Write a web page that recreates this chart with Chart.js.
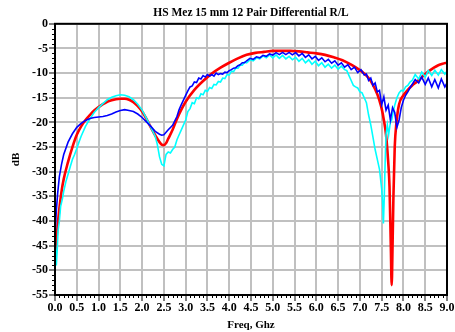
<!DOCTYPE html>
<html>
<head>
<meta charset="utf-8">
<script src="https://cdn.jsdelivr.net/npm/chart.js@4.4.1/dist/chart.umd.min.js"></script>
<style>
html,body{margin:0;padding:0;background:#fff;}
#wrap{width:455px;height:332px;position:relative;}
</style>
</head>
<body>
<div id="wrap"><canvas id="c" width="455" height="332"></canvas></div>
<script>
// ---- data (GHz, dB) ----
const redFreq = [0.0,0.03,0.06,0.1,0.15,0.2,0.3,0.4,0.5,0.6,0.7,0.8,0.9,1.0,1.1,1.2,1.3,1.4,1.5,1.6,1.7,1.8,1.9,2.0,2.1,2.2,2.3,2.4,2.45,2.5,2.55,2.6,2.7,2.8,2.9,3.0,3.2,3.4,3.6,3.8,4.0,4.2,4.4,4.6,4.8,5.0,5.2,5.4,5.6,5.8,6.0,6.2,6.4,6.6,6.8,7.0,7.1,7.2,7.3,7.4,7.45,7.5,7.55,7.6,7.65,7.68,7.71,7.73,7.75,7.77,7.8,7.84,7.9,8.0,8.1,8.2,8.3,8.4,8.5,8.6,8.7,8.8,8.9,9.0];
const redDb = [-47,-44,-41,-37.5,-34,-31.5,-28,-25,-22.5,-20.8,-19.5,-18.5,-17.6,-16.9,-16.3,-15.8,-15.5,-15.3,-15.2,-15.2,-15.4,-15.9,-16.7,-17.8,-19.3,-21,-22.6,-24,-24.5,-24.6,-24.2,-23.3,-21.5,-19.3,-17.4,-15.8,-13.4,-11.6,-10.1,-8.9,-7.9,-7.0,-6.3,-5.9,-5.7,-5.5,-5.5,-5.5,-5.6,-5.8,-6.0,-6.3,-6.8,-7.4,-8.3,-9.4,-10.1,-11.0,-12.4,-14.3,-15.6,-17.2,-19.5,-22.5,-28,-33,-45,-53,-45,-35,-25,-20,-16.3,-14.5,-13.4,-12.5,-11.8,-11.0,-10.2,-9.5,-8.9,-8.4,-8.1,-7.9];

const blueFreq = [0.0,0.03,0.06,0.1,0.15,0.2,0.3,0.4,0.5,0.6,0.7,0.8,0.9,1.0,1.1,1.2,1.3,1.4,1.5,1.6,1.7,1.8,1.9,2.0,2.1,2.2,2.3,2.4,2.45,2.5,2.55,2.6,2.7,2.8,2.85,2.9,3.0,3.05,3.1,3.15,3.2,3.25,3.3,3.35,3.4,3.45,3.5,3.55,3.6,3.65,3.7,3.75,3.8,3.85,3.9,3.95,4.0,4.05,4.1,4.15,4.2,4.25,4.3,4.35,4.4,4.475,4.55,4.625,4.7,4.775,4.85,4.925,5.0,5.075,5.15,5.225,5.3,5.375,5.45,5.525,5.6,5.675,5.75,5.825,5.9,5.975,6.05,6.125,6.2,6.275,6.35,6.425,6.5,6.575,6.65,6.725,6.8,6.875,6.95,7.025,7.1,7.15,7.2,7.25,7.3,7.35,7.4,7.45,7.5,7.55,7.6,7.65,7.7,7.75,7.8,7.85,7.9,7.95,8.0,8.05,8.1,8.15,8.2,8.27,8.35,8.42,8.5,8.57,8.65,8.72,8.8,8.87,8.95,9.0];
const blueDb = [-43,-38,-34.5,-31,-28.5,-26.5,-24,-22.3,-21,-20.2,-19.6,-19.2,-19,-18.9,-18.8,-18.6,-18.3,-17.9,-17.6,-17.4,-17.6,-17.8,-18.3,-19.0,-19.9,-20.8,-21.8,-22.4,-22.6,-22.5,-22.0,-21.5,-20.6,-18.8,-17.4,-16.4,-14.5,-13.6,-12.8,-12.6,-11.8,-11.9,-11.0,-11.2,-10.5,-10.8,-10.3,-10.6,-10.3,-10.6,-10.0,-10.3,-10.1,-10.2,-9.8,-9.9,-9.5,-9.3,-9.0,-8.9,-8.5,-8.3,-7.9,-7.9,-7.5,-7.0,-7.2,-6.7,-6.9,-6.4,-6.6,-6.1,-6.35,-5.85,-6.25,-5.8,-6.25,-5.8,-6.3,-5.85,-6.5,-6.0,-6.8,-6.3,-7.1,-6.6,-7.4,-6.9,-7.7,-7.2,-8.0,-7.5,-8.4,-7.9,-8.8,-8.3,-9.3,-8.8,-9.9,-9.3,-10.4,-10.2,-11.5,-11.0,-12.5,-12.0,-13.8,-13.5,-16.4,-14.8,-17.5,-16.5,-19.5,-17.0,-18.0,-21.0,-19.5,-17.0,-15.5,-14.5,-13.8,-13.0,-12.3,-11.3,-12.0,-10.8,-12.3,-11.0,-12.8,-11.3,-13.0,-11.2,-12.8,-12.0];

const cyanFreq = [0.0,0.03,0.05,0.07,0.1,0.13,0.17,0.2,0.25,0.3,0.35,0.4,0.45,0.5,0.55,0.6,0.7,0.8,0.9,1.0,1.1,1.2,1.3,1.4,1.5,1.6,1.7,1.8,1.9,2.0,2.1,2.2,2.3,2.35,2.4,2.45,2.5,2.55,2.6,2.65,2.7,2.75,2.8,2.85,2.9,3.0,3.05,3.1,3.15,3.2,3.25,3.3,3.35,3.4,3.45,3.5,3.55,3.6,3.65,3.7,3.75,3.8,3.85,3.9,3.95,4.0,4.05,4.1,4.15,4.2,4.25,4.3,4.35,4.4,4.475,4.55,4.625,4.7,4.775,4.85,4.925,5.0,5.075,5.15,5.225,5.3,5.375,5.45,5.525,5.6,5.675,5.75,5.825,5.9,5.975,6.05,6.125,6.2,6.275,6.35,6.425,6.5,6.575,6.65,6.7,6.75,6.8,6.85,6.9,6.95,7.0,7.05,7.1,7.15,7.2,7.25,7.3,7.35,7.4,7.45,7.5,7.52,7.54,7.56,7.58,7.6,7.63,7.66,7.7,7.73,7.76,7.8,7.85,7.9,7.95,8.0,8.05,8.1,8.15,8.2,8.27,8.35,8.42,8.5,8.57,8.65,8.72,8.8,8.87,8.95,9.0];
const cyanDb = [-44,-49,-46,-42,-40,-37,-35.5,-34,-32,-30.5,-29,-27.5,-26.5,-25.3,-24,-22.8,-20.8,-19.3,-18,-17,-16.2,-15.4,-14.9,-14.6,-14.4,-14.5,-14.8,-15.4,-16.3,-17.5,-19.2,-21,-22.8,-24.5,-27,-28.5,-28.8,-26.5,-26,-26.2,-25.5,-25,-23.5,-22.5,-21.5,-19.5,-17.8,-17.2,-16.0,-16.2,-15.0,-15.2,-14.2,-14.4,-13.5,-13.7,-12.9,-13.1,-12.3,-12.4,-11.7,-11.8,-11.0,-11.1,-10.3,-10.4,-9.6,-9.7,-9.0,-9.0,-8.4,-8.4,-7.8,-7.9,-7.3,-7.5,-6.9,-7.1,-6.5,-6.9,-6.3,-6.9,-6.3,-7.0,-6.4,-7.1,-6.6,-7.3,-6.8,-7.6,-7.0,-7.9,-7.3,-8.2,-7.6,-8.5,-7.9,-8.8,-8.2,-9.0,-8.4,-9.2,-8.6,-9.3,-9.5,-10.5,-11.5,-12.5,-12.8,-13.0,-13.8,-14.0,-15.0,-16.0,-18.5,-20.5,-23.0,-25.5,-27.5,-29.5,-33.5,-36,-40.5,-35,-28,-22.5,-20.5,-22.5,-20,-19.5,-18,-16.5,-15.0,-14.0,-13.5,-13.6,-12.8,-12.5,-11.8,-11.5,-10.3,-11.2,-9.8,-10.8,-9.5,-10.5,-9.4,-10.4,-9.3,-10.2,-9.6];

const xTickStep = 0.5;
const yTickStep = 5;
const titleText = 'HS Mez 15 mm 12 Pair Differential R/L';
const xTitle = 'Freq, Ghz';
const yTitle = 'dB';

function pts(xs, ys){ return xs.map((x,i)=>({x:x, y:ys[i]})); }

const FONT = '"Liberation Serif", "Times New Roman", serif';

const frame = {
  id:'frame',
  afterDraw(chart){
    const {ctx, chartArea:a, scales:{x, y}} = chart;
    ctx.save();
    ctx.strokeStyle = '#000';
    ctx.lineWidth = 2;
    ctx.strokeRect(a.left, a.top, a.right - a.left, a.bottom - a.top);
    ctx.lineWidth = 1;
    ctx.beginPath();
    for (let v = -55; v <= 0; v += 1) {
      if (v % 5 === 0) continue;
      const py = Math.round(y.getPixelForValue(v)) + 0.5;
      ctx.moveTo(a.left - 3, py); ctx.lineTo(a.left, py);
    }
    for (let k = 0; k <= 90; k++) {
      if (k % 5 === 0) continue;
      const px = Math.round(x.getPixelForValue(k/10)) + 0.5;
      ctx.moveTo(px, a.bottom); ctx.lineTo(px, a.bottom + 3);
    }
    ctx.stroke();
    ctx.restore();
  }
};

new Chart(document.getElementById('c'), {
  type: 'scatter',
  data: {
    datasets: [
      {label:'blue', data: pts(blueFreq, blueDb), borderColor:'#0000ff', borderWidth:1.6, showLine:true, pointRadius:0, tension:0, fill:false},
      {label:'cyan', data: pts(cyanFreq, cyanDb), borderColor:'#00ffff', borderWidth:1.6, showLine:true, pointRadius:0, tension:0, fill:false},
      {label:'red', data: pts(redFreq, redDb), borderColor:'#ff0000', borderWidth:2.6, showLine:true, pointRadius:0, cubicInterpolationMode:'monotone', fill:false}
    ]
  },
  options: {
    responsive: false,
    animation: false,
    layout: {padding: {top: 0, right: 8, left: 0, bottom: 0}},
    plugins: {
      legend: {display: false},
      tooltip: {enabled: false},
      title: {
        display: true, text: titleText, fullSize: false,
        color: '#000', font: {family: FONT, size: 11.5, weight: 'bold'},
        padding: {top: 6, bottom: 4}
      }
    },
    scales: {
      x: {
        type: 'linear', min: 0, max: 9,
        afterFit(s){ s.height = 37; },
        ticks: {stepSize: xTickStep, color:'#000', font:{family: FONT, size: 12, weight:'bold'}, padding: 0, maxRotation:0, autoSkip:false,
          callback: v => Number(v).toFixed(1)},
        grid: {color:'#c0c0c0', lineWidth:2, tickColor:'#000', tickLength:6, tickWidth:1},
        border: {color:'#000', width:2},
        title: {display:true, text:xTitle, color:'#000', font:{family: FONT, size: 11, weight:'bold'}, padding:{top:0, bottom:0}}
      },
      y: {
        type: 'linear', min: -55, max: 0,
        afterFit(s){ s.width = 55; },
        ticks: {stepSize: yTickStep, color:'#000', font:{family: FONT, size: 12, weight:'bold'}, padding: 1, autoSkip:false},
        grid: {color:'#c0c0c0', lineWidth:2, tickColor:'#000', tickLength:6, tickWidth:1},
        border: {color:'#000', width:2},
        title: {display:true, text:yTitle, color:'#000', font:{family: FONT, size: 11, weight:'bold'}, padding:{top:10, bottom:0}}
      }
    }
  },
  plugins: [frame]
});
</script>
</body>
</html>
